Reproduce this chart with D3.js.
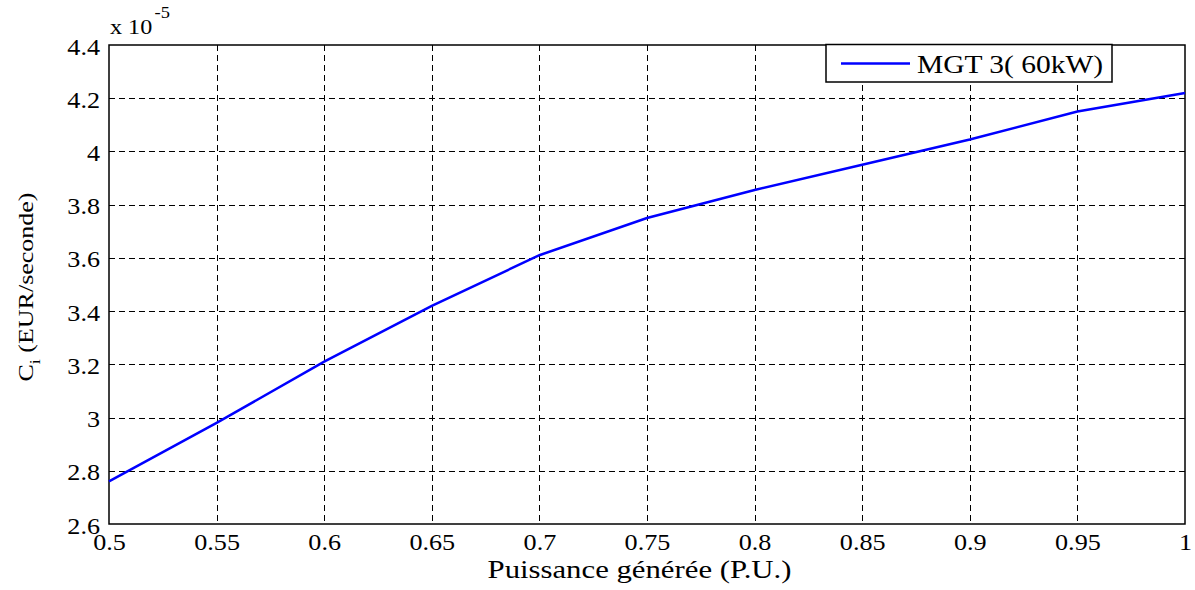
<!DOCTYPE html>
<html><head><meta charset="utf-8">
<script src="https://cdn.jsdelivr.net/npm/d3@7/dist/d3.min.js"></script>
<style>body{margin:0;background:#fff;}svg{display:block;} text{font-family:"Liberation Serif","Times New Roman",Times,"DejaVu Serif","Noto Serif",serif;}</style>
</head><body>
<svg id="c" width="1195" height="590"></svg>
<script>
const xValues = [0.5, 0.55, 0.6, 0.65, 0.7, 0.75, 0.8, 0.85, 0.9, 0.95, 1.0];
const costValues = [2.76, 2.98, 3.21, 3.42, 3.61, 3.75, 3.855, 3.95, 4.045, 4.15, 4.22];
const xTicks = [0.5, 0.55, 0.6, 0.65, 0.7, 0.75, 0.8, 0.85, 0.9, 0.95, 1];
const yTicks = [2.6, 2.8, 3, 3.2, 3.4, 3.6, 3.8, 4, 4.2, 4.4];
const seriesName = "MGT 3( 60kW)";

const svg = d3.select("#c");
const L = 109, R = 1185, T = 45, B = 524;
const SX = 1.09;
const x = d3.scaleLinear().domain([0.5, 1]).range([L, R]);
const y = d3.scaleLinear().domain([2.6, 4.4]).range([B, T]);

// grid
const g = svg.append("g");
g.selectAll(".vg").data(xTicks.slice(1, -1)).enter().append("line")
  .attr("x1", d => Math.round(x(d)) + 0.5).attr("x2", d => Math.round(x(d)) + 0.5)
  .attr("y1", T).attr("y2", B)
  .attr("stroke", "#000").attr("stroke-width", 1).attr("stroke-dasharray", "6,4");
g.selectAll(".hg").data(yTicks.slice(1, -1)).enter().append("line")
  .attr("y1", d => Math.round(y(d)) + 0.5).attr("y2", d => Math.round(y(d)) + 0.5)
  .attr("x1", L).attr("x2", R)
  .attr("stroke", "#000").attr("stroke-width", 1).attr("stroke-dasharray", "6,4");

// axes
const xa = svg.append("g").attr("transform", `translate(0,${B})`)
  .call(d3.axisBottom(x).tickValues(xTicks).tickFormat(d3.format("")).tickSize(0).tickPadding(0));
xa.select(".domain").remove();
xa.attr("font-family", null);
xa.selectAll("text").attr("font-size", 24).attr("fill", "#000")
  .attr("dy", null).attr("y", 0).attr("transform", `translate(0,26) scale(${SX},1)`);
const ya = svg.append("g").attr("transform", `translate(${L},0)`)
  .call(d3.axisLeft(y).tickValues(yTicks).tickFormat(d3.format("")).tickSize(0).tickPadding(0));
ya.select(".domain").remove();
ya.attr("font-family", null);
ya.selectAll("text").attr("font-size", 24).attr("fill", "#000")
  .attr("x", 0).attr("dy", null).attr("y", 0).attr("transform", `translate(-9,9) scale(${SX},1)`);

// frame
svg.append("rect").attr("x", L).attr("y", T).attr("width", R - L).attr("height", B - T)
  .attr("fill", "none").attr("stroke", "#000").attr("stroke-width", 1.5);

// line
const line = d3.line().x((d, i) => x(xValues[i])).y(d => y(d));
svg.append("path").datum(costValues).attr("d", line)
  .attr("fill", "none").attr("stroke", "#0000ff").attr("stroke-width", 2.5);

// exponent
const ex = svg.append("text").attr("transform", `translate(110,34) scale(1.15,1)`)
  .attr("font-size", 21).attr("fill", "#000");
ex.append("tspan").text("x 10");
ex.append("tspan").attr("dy", -16).attr("dx", 2).attr("font-size", 16).text("-5");

// legend
svg.append("rect").attr("x", 826).attr("y", 44.5).attr("width", 286).attr("height", 37.5)
  .attr("fill", "#fff").attr("stroke", "#000").attr("stroke-width", 1.5);
svg.append("line").attr("x1", 841).attr("x2", 910).attr("y1", 63.5).attr("y2", 63.5)
  .attr("stroke", "#0000ff").attr("stroke-width", 2.5);
svg.append("text").attr("transform", `translate(917,73) scale(1.18,1)`)
  .attr("font-size", 25).attr("fill", "#000").text(seriesName);

// labels
svg.append("text").attr("transform", `translate(${(486 + 793) / 2},578) scale(1.23,1)`).attr("text-anchor", "middle")
  .attr("font-size", 25).attr("fill", "#000")
  .text("Puissance générée (P.U.)");
const yl = svg.append("text").attr("transform", `translate(33,287) scale(0.8,1) rotate(-90)`)
  .attr("text-anchor", "middle").attr("font-size", 26).attr("fill", "#000");
yl.append("tspan").text("C");
yl.append("tspan").attr("dy", 9).attr("font-size", 18).text("i");
yl.append("tspan").attr("dy", -9).text(" (EUR/seconde)");
</script>
</body></html>
